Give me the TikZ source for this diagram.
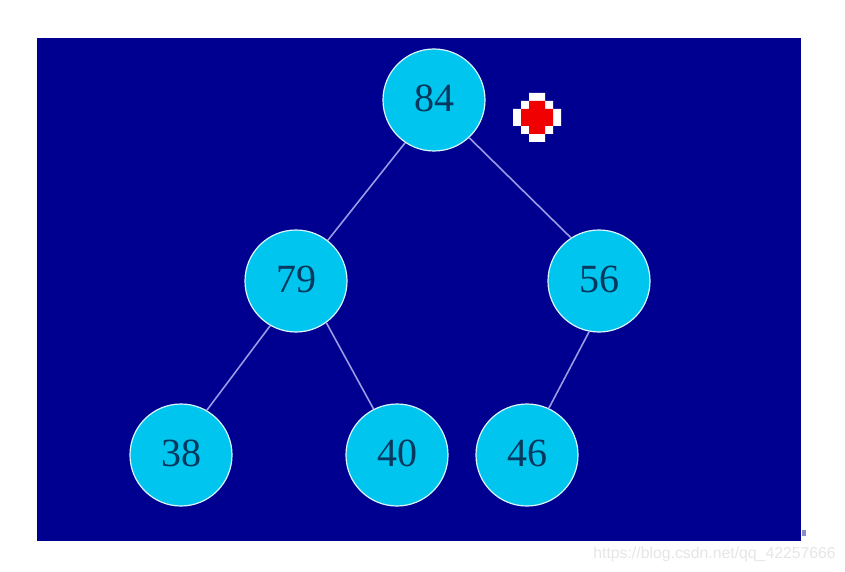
\documentclass[tikz,border=0pt]{standalone}
\usepackage{fontspec}
\setmainfont{Liberation Serif}
\setsansfont{Liberation Sans}
\definecolor{heapbg}{HTML}{000090}
\definecolor{heapfill}{HTML}{00C5EE}
\definecolor{heapline}{HTML}{9A9AE6}
\definecolor{keytext}{HTML}{04385E}
\definecolor{markred}{HTML}{F00000}
\definecolor{stampgrey}{HTML}{E6E6E6}
\begin{document}
\begin{tikzpicture}[
  x=1pt, y=-1pt,
  key/.style={draw=white!85!heapfill, line width=1.2pt, circle, fill=heapfill,
    minimum size=102pt, inner sep=0pt, text depth=4pt,
    font=\fontsize{40}{40}\selectfont, text=keytext},
  link/.style={draw=heapline, line width=1.6pt},
  stamp/.style={font=\sffamily\fontsize{15.8}{15.8}\selectfont, text=stampgrey, anchor=east, inner sep=0pt},
]
\useasboundingbox (0,0) rectangle (845,572);
\fill[white] (0,0) rectangle (845,572);
\fill[heapbg] (37,38) rectangle (801,541);
\fill[heapbg!45!white] (802,530) rectangle (806,536);

\node[key] (k84) at (434,100) {84};
\node[key] (k79) at (296,281) {79};
\node[key] (k56) at (599,281) {56};
\node[key] (k38) at (181,455) {38};
\node[key] (k40) at (397,455) {40};
\node[key] (k46) at (527,455) {46};

\draw[link] (k84.236) -- (k79.52);
\draw[link] (k84.313) -- (k56.123);
\draw[link] (k79.240) -- (k38.60);
\draw[link] (k79.306) -- (k40.117);
\draw[link] (k56.259) -- (k46.65);

% pixel marker
\fill[white] (529,93) -| (545,101) -| (553,109) -| (561,126) -| (553,134) -| (545,142)
  -| (529,134) -| (521,126) -| (513,109) -| (521,101) -| (529,93) -- cycle;
\fill[markred] (529,101) -| (545,109) -| (553,126) -| (545,134) -| (529,126) -| (521,109) -| (529,101) -- cycle;

\node[stamp] (url) at (836,554) {https://blog.csdn.net/qq\_42257666};
\end{tikzpicture}
\end{document}
